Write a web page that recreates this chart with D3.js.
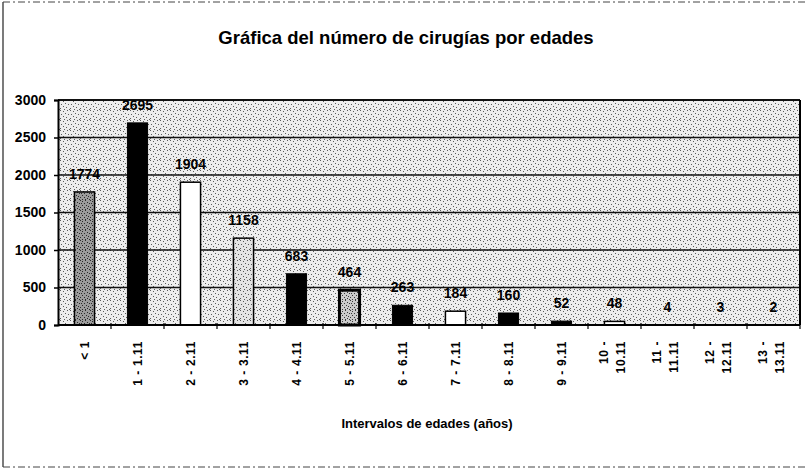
<!DOCTYPE html>
<html>
<head>
<meta charset="utf-8">
<script src="https://cdn.jsdelivr.net/npm/d3@7"></script>
<style>
  body { margin: 0; background: #fff; }
  text { font-family: "Liberation Sans", Arial, sans-serif; fill: #000; }
</style>
</head>
<body>
<div id="chart"></div>
<script>
// age intervals and number of surgeries
const categories = ["< 1", "1 - 1.11", "2 - 2.11", "3 - 3.11", "4 - 4.11", "5 - 5.11", "6 - 6.11",
                    "7 - 7.11", "8 - 8.11", "9 - 9.11", "10 - 10.11", "11 - 11.11", "12 - 12.11", "13 - 13.11"];
const surgeries = [1774, 2695, 1904, 1158, 683, 464, 263, 184, 160, 52, 48, 4, 3, 2];
const yTicks = [0, 500, 1000, 1500, 2000, 2500, 3000];

const width = 810, height = 470;
const plot = { left: 58, right: 800, top: 100, bottom: 325 };

// bar look, one per category (scanned print: textures, black, white)
const barFills = ["url(#dark)", "#000", "#fff", "url(#light)", "#000", "url(#mid)", "#000",
                  "#fff", "#000", "#000", "#fff", "#000", "#000", "#000"];
const barStrokeW = [1.5, 1, 1.5, 1.5, 1, 3, 1, 1.5, 1, 1, 1.5, 1, 1, 1];

const svg = d3.select("#chart").append("svg")
    .attr("width", width)
    .attr("height", height);

// textures (fixed dot layouts in a 10px tile)
const defs = svg.append("defs");
function speckle(id, base, dot, pts) {
    const p = defs.append("pattern")
        .attr("id", id)
        .attr("width", 10).attr("height", 10)
        .attr("patternUnits", "userSpaceOnUse");
    p.append("rect").attr("width", 10).attr("height", 10).attr("fill", base);
    pts.forEach(q => p.append("rect").attr("x", q[0]).attr("y", q[1])
        .attr("width", 1).attr("height", 1).attr("fill", dot));
}
const dotsA = [[0, 0], [3, 1], [7, 0], [5, 3], [1, 4], [8, 4], [3, 6], [6, 7], [0, 8], [9, 9], [4, 9]];
const dotsB = [[0, 0], [2, 1], [5, 0], [7, 2], [1, 3], [4, 3], [9, 3], [2, 5], [6, 5], [8, 6],
               [0, 7], [4, 7], [7, 8], [2, 9], [5, 9], [9, 9]];
speckle("bg", "#ededed", "#5a5a5a", dotsA);
speckle("dark", "#9c9c9c", "#2a2a2a", dotsB);
speckle("light", "#e4e4e4", "#555", dotsA);
speckle("mid", "#cbcbcb", "#3a3a3a", dotsB);

// outer frame
svg.append("line").attr("x1", 3).attr("x2", 3).attr("y1", 2).attr("y2", 467)
    .attr("stroke", "#222").attr("stroke-width", 1.2);
svg.append("line").attr("x1", 3).attr("x2", 808).attr("y1", 2).attr("y2", 2)
    .attr("stroke", "#444").attr("stroke-dasharray", "7,3,2,3");
svg.append("line").attr("x1", 3).attr("x2", 808).attr("y1", 467).attr("y2", 467)
    .attr("stroke", "#444").attr("stroke-dasharray", "7,3,2,3");

// title
svg.append("text")
    .attr("x", 406).attr("y", 44)
    .attr("text-anchor", "middle")
    .style("font-size", "18.5px")
    .style("font-weight", "bold")
    .text("Gráfica del número de cirugías por edades");

// scales
const x = d3.scaleBand()
    .domain(categories)
    .range([plot.left, plot.right])
    .paddingInner(0.62)
    .paddingOuter(0.31);

const y = d3.scaleLinear()
    .domain([0, 3000])
    .range([plot.bottom, plot.top]);

// plot background
svg.append("rect")
    .attr("x", plot.left).attr("y", plot.top)
    .attr("width", plot.right - plot.left)
    .attr("height", plot.bottom - plot.top)
    .attr("fill", "url(#bg)");

// gridlines
svg.append("g")
    .selectAll("line")
    .data(yTicks.filter(d => d > 0))
    .join("line")
    .attr("x1", plot.left).attr("x2", plot.right)
    .attr("y1", d => y(d)).attr("y2", d => y(d))
    .attr("stroke", "#111")
    .attr("stroke-width", d => d === 3000 ? 2 : 1.5);

// right border
svg.append("line")
    .attr("x1", plot.right).attr("x2", plot.right)
    .attr("y1", plot.top).attr("y2", plot.bottom)
    .attr("stroke", "#000").attr("stroke-width", 2);

// bars
svg.append("g")
    .selectAll("rect")
    .data(surgeries)
    .join("rect")
    .attr("x", (d, i) => x(categories[i]))
    .attr("y", d => y(d))
    .attr("width", x.bandwidth())
    .attr("height", d => y(0) - y(d))
    .attr("fill", (d, i) => barFills[i])
    .attr("stroke", "#000")
    .attr("stroke-width", (d, i) => barStrokeW[i]);

// value labels
svg.append("g")
    .selectAll("text")
    .data(surgeries)
    .join("text")
    .attr("x", (d, i) => x(categories[i]) + x.bandwidth() / 2)
    .attr("y", d => y(d) - 18)
    .attr("dy", "0.35em")
    .attr("text-anchor", "middle")
    .style("font-size", "14px")
    .style("font-weight", "bold")
    .text(d => d);

// y axis
const yAxis = svg.append("g")
    .attr("transform", `translate(${plot.left},0)`)
    .call(d3.axisLeft(y).tickValues(yTicks).tickSize(4).tickPadding(8).tickFormat(d3.format("d")));
yAxis.select(".domain").attr("stroke", "#000").attr("stroke-width", 2);
yAxis.selectAll(".tick line").attr("stroke", "#000").attr("stroke-width", 1.5);
yAxis.selectAll("text")
    .style("font-size", "14px")
    .style("font-weight", "bold")
    .style("font-family", "'Liberation Sans', Arial, sans-serif");

// x axis: ticks between categories
const xAxis = svg.append("g");
xAxis.append("line")
    .attr("x1", plot.left).attr("x2", plot.right)
    .attr("y1", plot.bottom).attr("y2", plot.bottom)
    .attr("stroke", "#000").attr("stroke-width", 2);
xAxis.selectAll("line.tk")
    .data(categories)
    .join("line")
    .attr("class", "tk")
    .attr("x1", d => x(d) + x.bandwidth() / 2 + x.step() / 2)
    .attr("x2", d => x(d) + x.bandwidth() / 2 + x.step() / 2)
    .attr("y1", plot.bottom - 2).attr("y2", plot.bottom + 4)
    .attr("stroke", "#000").attr("stroke-width", 1.2);

// rotated category labels (long ones broken on two lines)
const labels = xAxis.selectAll("text.cat")
    .data(categories)
    .join("text")
    .attr("class", "cat")
    .attr("transform", d => `translate(${x(d) + x.bandwidth() / 2},${plot.bottom + 16}) rotate(-90)`)
    .attr("text-anchor", "end")
    .attr("dominant-baseline", "central")
    .style("font-size", "12px")
    .style("font-weight", "bold")
    .style("letter-spacing", "0.6px");

labels.each(function (d, i) {
    const t = d3.select(this);
    if (i >= 10) {
        const parts = d.split(" - ");
        t.append("tspan").attr("x", 0).attr("y", -11).text(parts[0] + " -");
        t.append("tspan").attr("x", 0).attr("y", 6).text(parts[1]);
    } else {
        t.append("tspan").attr("x", 0).attr("y", 0).text(d);
    }
});

// x axis title
svg.append("text")
    .attr("x", 427).attr("y", 428)
    .attr("text-anchor", "middle")
    .style("font-size", "13px")
    .style("font-weight", "bold")
    .text("Intervalos de edades (años)");
</script>
</body>
</html>
